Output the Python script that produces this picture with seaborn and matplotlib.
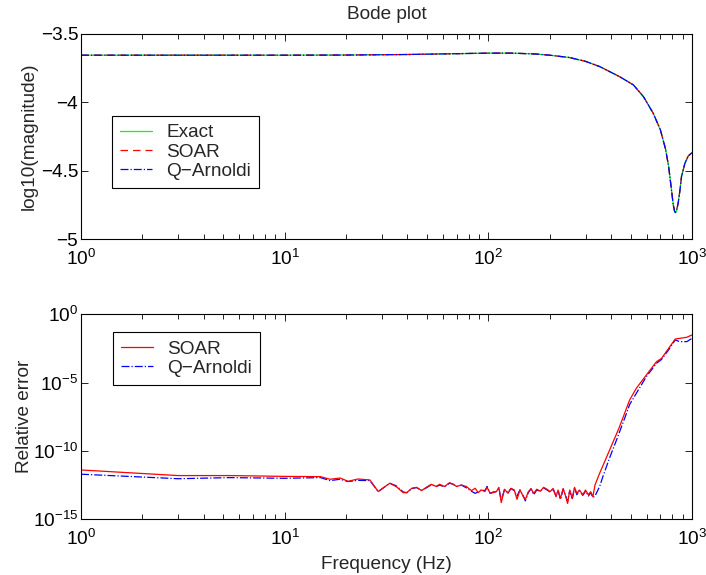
import matplotlib
matplotlib.use("Agg")
import matplotlib.pyplot as plt
import numpy as np
import seaborn as sns
from matplotlib.ticker import FixedLocator, NullLocator, LogLocator

# top panel: log10 of the transfer magnitude (all three curves coincide)
mag_freq = [1, 5, 10, 20, 40, 70, 100, 130, 170, 200, 250, 300, 353, 441, 516, 578,
            645, 699, 741, 768, 790, 809, 822, 830, 840, 855, 872, 888, 923, 958, 1000]
exact_mag = [-3.655, -3.655, -3.655, -3.654, -3.650, -3.644, -3.640, -3.640, -3.646,
             -3.655, -3.672, -3.700, -3.739, -3.812, -3.873, -3.959, -4.080, -4.200,
             -4.340, -4.470, -4.620, -4.750, -4.800, -4.807, -4.790, -4.739, -4.646,
             -4.544, -4.446, -4.393, -4.368]
soar_mag = list(exact_mag)
qarn_mag = list(exact_mag)

# bottom panel: relative error, stored as log10 exponents
err_freq = [1, 3, 5.4, 10, 15, 16.7, 18.7, 20.5, 22.9, 26.2, 28.8, 32.8, 35.3, 38.2,
            39.8, 42.1, 44.4, 47, 49.6, 52.5, 55.5, 57.6, 61, 64.5, 67.3, 69.8, 73.8,
            78, 82.6, 86.2, 89.1, 92.4, 96.2, 98.6, 102, 105.7, 109.5, 112.7, 115.7,
            120, 125, 129, 134, 138.3, 143, 148, 152, 157, 162, 167, 173, 180, 186.7,
            194, 201, 208, 215, 220, 226, 233, 240, 245, 251, 258, 265, 272, 280, 291,
            300, 310, 318, 326, 334, 352, 365, 394, 426, 441, 477, 494, 533, 597, 669,
            709, 768, 827, 870, 943, 1000]
soar_err = [-11.39, -11.80, -11.80, -11.86, -11.88, -12.07, -11.98, -12.22, -12.05,
            -12.12, -12.97, -12.36, -12.61, -13.05, -13.05, -12.73, -12.66, -12.90,
            -12.66, -12.44, -12.60, -12.44, -12.60, -12.32, -12.44, -12.60, -12.49,
            -12.60, -12.90, -12.73, -13.05, -12.85, -12.97, -12.66, -13.10, -13.05,
            -12.97, -12.66, -13.78, -12.80, -13.10, -12.73, -12.85, -13.54, -12.85,
            -13.30, -13.55, -13.00, -12.75, -13.10, -12.80, -12.95, -12.66, -12.80,
            -12.98, -12.74, -13.35, -12.86, -13.47, -12.74, -13.35, -13.84, -12.86,
            -13.47, -12.66, -13.10, -12.86, -13.20, -12.86, -13.20, -12.98, -13.35,
            -12.49, -11.63, -11.09, -9.93, -8.75, -8.22, -6.87, -6.27, -5.41, -4.44,
            -3.47, -3.22, -2.49, -1.81, -1.76, -1.68, -1.51]
qarn_err = [-11.70, -12.03, -11.95, -12.00, -11.95, -12.17, -12.07, -12.24, -12.15,
            -12.17, -12.97, -12.36, -12.55, -13.00, -13.05, -12.75, -12.68, -12.88,
            -12.70, -12.47, -12.60, -12.50, -12.62, -12.36, -12.44, -12.60, -12.50,
            -12.70, -12.95, -13.10, -13.00, -12.85, -12.90, -12.60, -13.10, -13.00,
            -12.97, -12.75, -13.60, -12.85, -13.05, -12.75, -12.90, -13.30, -12.85,
            -13.25, -13.65, -13.05, -12.78, -13.20, -12.85, -12.95, -12.70, -12.85,
            -13.00, -12.78, -13.30, -12.90, -13.55, -12.80, -13.30, -13.70, -12.90,
            -13.55, -12.70, -13.20, -12.90, -13.25, -12.95, -13.30, -13.05, -13.40,
            -13.30, -12.60, -11.88, -10.50, -9.20, -8.60, -7.24, -6.60, -5.78, -4.56,
            -3.59, -3.30, -2.60, -1.88, -2.00, -2.00, -1.76]

FS = 13.7

sns.set_theme(style="ticks", rc={
    "xtick.direction": "in", "ytick.direction": "in",
    "xtick.top": True, "ytick.right": True,
    "axes.edgecolor": "black", "axes.linewidth": 0.8,
    "xtick.color": "black", "ytick.color": "black",
})
plt.rcParams["font.family"] = ["Liberation Sans", "DejaVu Sans"]
plt.rcParams["font.size"] = FS
plt.rcParams["axes.labelsize"] = FS
plt.rcParams["mathtext.fontset"] = "custom"
plt.rcParams["mathtext.rm"] = "Liberation Sans"
plt.rcParams["mathtext.it"] = "Liberation Sans:italic"

fig = plt.figure(figsize=(7.06, 5.75), dpi=100)
W, H = 706, 575
ax1 = fig.add_axes([81 / W, 1 - 239 / H, 611 / W, 205 / H])
ax2 = fig.add_axes([81 / W, 1 - 519.3 / H, 611 / W, 205 / H])

lw = 0.9
sns.lineplot(x=mag_freq, y=exact_mag, ax=ax1, color="#00ff00", lw=lw, label="Exact")
sns.lineplot(x=mag_freq, y=soar_mag, ax=ax1, color="#ff0000", lw=lw,
             dashes=(6, 4), label="SOAR")
sns.lineplot(x=mag_freq, y=qarn_mag, ax=ax1, color="#0000ff", lw=lw, linestyle="-.",
             label="Q\u2212Arnoldi")

sns.lineplot(x=err_freq, y=10.0 ** np.array(qarn_err), ax=ax2, color="#0000ff", lw=lw,
             linestyle="-.", label="Q\u2212Arnoldi")
sns.lineplot(x=err_freq, y=10.0 ** np.array(soar_err), ax=ax2, color="#ff0000", lw=lw,
             label="SOAR")

for ax in (ax1, ax2):
    ax.set_xscale("log")
    ax.set_xlim(1, 1000)
    ax.xaxis.set_major_locator(FixedLocator([1, 10, 100, 1000]))
    ax.xaxis.set_minor_locator(LogLocator(base=10, subs=np.arange(2, 10)))
    ax.tick_params(which="major", length=5, width=0.6, labelsize=FS)
    ax.tick_params(which="minor", length=3.5, width=0.6)
    ax.tick_params(axis="x", pad=7)
    ax.tick_params(axis="y", pad=2)

ax1.set_ylim(-5, -3.5)
ax1.set_yticks([-5, -4.5, -4, -3.5])
ax1.set_yticklabels(["\u22125", "\u22124.5", "\u22124", "\u22123.5"])
ax1.set_ylabel("log10(magnitude)", fontsize=FS, labelpad=2)
ax1.set_title("Bode plot", fontsize=FS, pad=11)

ax2.set_yscale("log")
ax2.set_ylim(1e-15, 1e0)
ax2.yaxis.set_major_locator(FixedLocator([1e-15, 1e-10, 1e-5, 1e0]))
ax2.yaxis.set_minor_locator(NullLocator())
ax2.set_ylabel("Relative error", fontsize=FS, labelpad=0)
ax2.set_xlabel("Frequency (Hz)", fontsize=FS, labelpad=5)

leg_kw = dict(loc="upper left", frameon=True, fancybox=False, edgecolor="black",
              framealpha=1, fontsize=FS, handlelength=1.7, handletextpad=0.75,
              labelspacing=0.1, borderpad=0.42, borderaxespad=0)
h, l = ax1.get_legend_handles_labels()
lg1 = ax1.legend(h, l, bbox_to_anchor=(0.05, 0.60), **leg_kw)
h, l = ax2.get_legend_handles_labels()
lg2 = ax2.legend([h[1], h[0]], [l[1], l[0]], bbox_to_anchor=(0.052, 0.912), **leg_kw)
for lg in (lg1, lg2):
    lg.get_frame().set_linewidth(0.8)

fig.savefig("out.png", dpi=100)
